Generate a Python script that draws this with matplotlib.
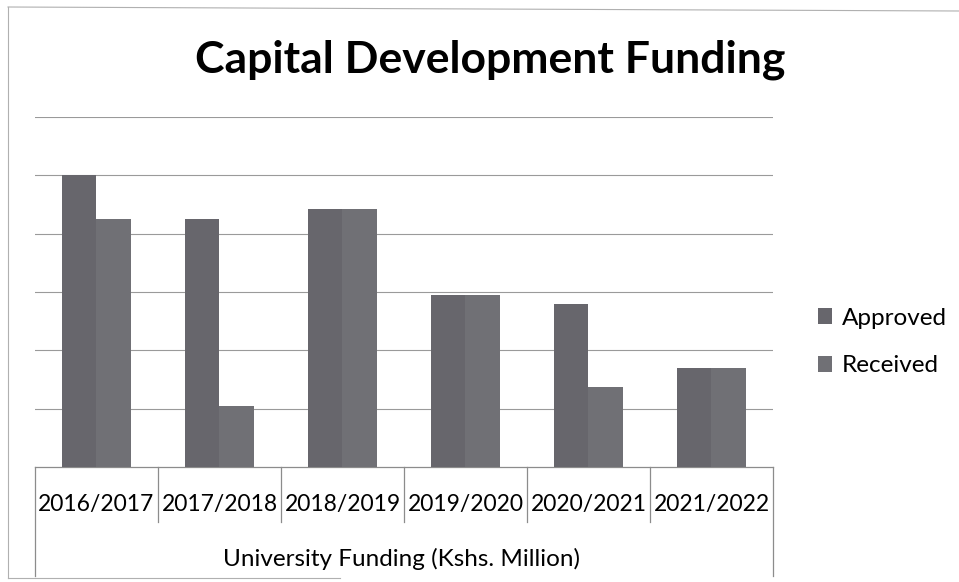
import matplotlib.pyplot as plt
from matplotlib.lines import Line2D
import numpy as np

# Funding per financial year (gridlines every 100)
years = ["2016/2017", "2017/2018", "2018/2019", "2019/2020", "2020/2021", "2021/2022"]
approved = [500, 425, 443, 295, 280, 170]
received = [425, 105, 443, 295, 137, 170]
series_names = ["Approved", "Received"]

bar_w = 0.28
grid_col = "#9a9a9a"
table_col = "#8c8c8c"
font = "Lato"

fig = plt.figure(figsize=(9.59, 5.82), dpi=100)
ax = fig.add_axes([35 / 959, 1 - 467 / 582, (773 - 35) / 959, (467 - 117) / 582])

x = np.arange(len(years))
ax.bar(x - bar_w / 2, approved, bar_w, color="#67666c", label=series_names[0], zorder=3)
ax.bar(x + bar_w / 2, received, bar_w, color="#707075", label=series_names[1], zorder=3)

ax.set_xlim(-0.5, len(years) - 0.5)
ax.set_ylim(0, 600)
ax.set_yticks(range(100, 601, 100))
ax.yaxis.grid(True, color=grid_col, lw=0.8)
ax.set_axisbelow(True)
ax.tick_params(left=False, labelleft=False, bottom=False, labelbottom=False)
for s in ax.spines.values():
    s.set_visible(False)

# Category table under the bars
trans = ax.get_xaxis_transform()
ax.plot([-0.5, len(years) - 0.5], [0, 0], color=table_col, lw=0.9, transform=trans, clip_on=False)
for b in np.arange(0.5, len(years) - 1, 1.0):
    ax.plot([b, b], [0, -0.157], color=table_col, lw=0.9, transform=trans, clip_on=False)
for b in [-0.5, len(years) - 0.5]:
    ax.plot([b, b], [0, -0.31], color=table_col, lw=0.9, transform=trans, clip_on=False)

for i, yr in enumerate(years):
    ax.text(i, -0.108, yr, transform=trans, ha="center", va="center",
            fontsize=16.5, family=font)
ax.text(2.48, -0.262, "University Funding (Kshs. Million)",
        transform=trans, ha="center", va="center", fontsize=17.5, family=font)

# Title and legend
fig.text(490 / 959, 1 - 60 / 582, "Capital Development Funding", ha="center", va="center",
         fontsize=32, fontweight="bold", family=font)
ax.legend(loc="center left", bbox_to_anchor=(1.031, 0.357), frameon=False,
          prop={"family": font, "size": 17.5}, handlelength=0.6, handleheight=0.6,
          handletextpad=0.4, labelspacing=1.1)

# Thin outer border of the chart
fig.add_artist(Line2D([8 / 959, 1], [1 - 7 / 582, 1 - 11 / 582], color="#b0b0b0", lw=0.8))
fig.add_artist(Line2D([8 / 959, 8 / 959], [1 - 7 / 582, 1 - 578 / 582], color="#b0b0b0", lw=0.8))
fig.add_artist(Line2D([8 / 959, 340 / 959], [1 - 578 / 582, 1 - 578 / 582], color="#b0b0b0", lw=0.8))

fig.savefig("out.png", dpi=100)
